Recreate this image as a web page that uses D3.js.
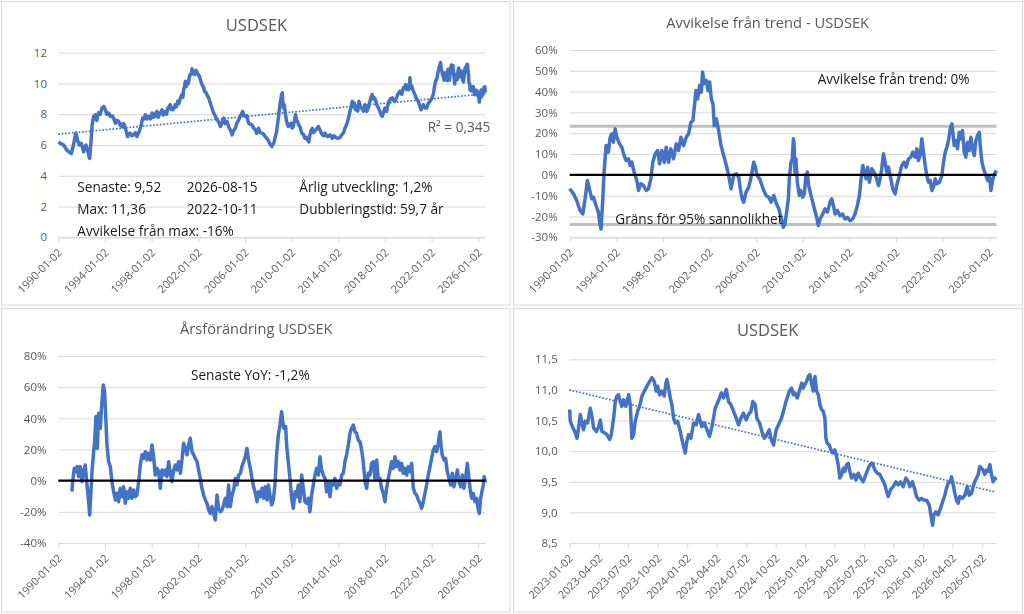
<!DOCTYPE html>
<html><head><meta charset="utf-8">
<script src="https://cdn.jsdelivr.net/npm/d3@7/dist/d3.min.js"></script>
<style>
html,body{margin:0;padding:0;background:#fff;}
svg{display:block;font-family:"Open Sans",sans-serif;}
.xlab{opacity:0.995;}
</style></head><body>
<svg id="c" width="1024" height="614"></svg>
<script>
// ---------- DATA ----------
// USDSEK long history 1990 - 2022 : [decimal year, rate]
const usdsekHist = [[1990.00,6.17],[1990.2,6.1],[1990.46,6.0],[1990.7,5.7],[1990.89,5.56],[1991.11,5.45],[1991.3,6.0],[1991.46,6.66],[1991.51,6.77],[1991.65,6.3],[1991.8,6.0],[1991.97,6.11],[1992.17,5.56],[1992.37,6.0],[1992.5,5.7],[1992.6,5.34],[1992.69,5.13],[1992.8,6.2],[1992.9,7.3],[1993.03,7.86],[1993.17,7.97],[1993.3,7.6],[1993.45,8.1],[1993.6,8.0],[1993.74,8.4],[1993.89,8.51],[1994.03,8.29],[1994.15,8.0],[1994.31,8.08],[1994.46,7.86],[1994.6,7.9],[1994.74,7.75],[1994.89,7.42],[1995.05,7.6],[1995.17,7.53],[1995.3,7.3],[1995.46,7.2],[1995.56,7.4],[1995.66,7.31],[1995.83,6.87],[1995.94,6.55],[1996.05,6.75],[1996.17,6.77],[1996.3,6.6],[1996.46,6.66],[1996.6,6.8],[1996.74,6.55],[1996.94,6.87],[1997.11,7.31],[1997.23,7.75],[1997.35,7.7],[1997.46,7.97],[1997.6,7.7],[1997.74,7.86],[1997.9,7.7],[1998.03,8.08],[1998.15,7.8],[1998.26,7.86],[1998.36,8.1],[1998.46,8.18],[1998.56,7.8],[1998.66,7.97],[1998.78,8.1],[1998.89,8.29],[1999.0,7.95],[1999.17,8.18],[1999.28,8.0],[1999.4,8.4],[1999.6,8.62],[1999.7,8.3],[1999.8,8.29],[1999.92,8.4],[2000.03,8.62],[2000.13,8.5],[2000.23,8.84],[2000.35,8.7],[2000.46,9.06],[2000.6,9.28],[2000.68,9.1],[2000.74,9.6],[2000.82,9.8],[2000.89,10.15],[2000.96,9.8],[2001.03,9.93],[2001.15,10.0],[2001.22,10.4],[2001.31,10.59],[2001.4,10.6],[2001.46,10.95],[2001.55,10.7],[2001.69,10.59],[2001.8,10.85],[2001.89,10.75],[2002.0,10.55],[2002.09,10.48],[2002.2,10.2],[2002.31,9.93],[2002.42,9.8],[2002.54,9.5],[2002.7,9.35],[2002.89,9.06],[2003.0,8.8],[2003.17,8.4],[2003.3,8.1],[2003.4,7.97],[2003.6,7.64],[2003.75,7.5],[2003.89,7.2],[2004.0,7.4],[2004.17,7.75],[2004.3,7.4],[2004.46,7.53],[2004.55,7.3],[2004.66,7.09],[2004.8,6.9],[2004.89,6.66],[2005.0,6.9],[2005.17,7.09],[2005.3,7.4],[2005.46,7.64],[2005.6,7.9],[2005.7,8.0],[2005.8,8.18],[2005.9,7.95],[2006.03,7.86],[2006.15,7.9],[2006.31,7.42],[2006.45,7.35],[2006.6,7.31],[2006.75,7.1],[2006.89,6.98],[2007.0,6.75],[2007.17,7.09],[2007.3,6.8],[2007.46,6.77],[2007.6,6.7],[2007.74,6.55],[2007.9,6.4],[2008.0,6.3],[2008.15,6.05],[2008.3,5.9],[2008.5,6.2],[2008.71,6.87],[2008.86,7.75],[2009.0,8.62],[2009.14,9.28],[2009.2,9.39],[2009.26,8.7],[2009.3,8.4],[2009.37,8.62],[2009.47,8.0],[2009.57,7.53],[2009.71,7.2],[2009.82,7.35],[2009.94,7.42],[2010.05,7.1],[2010.14,7.2],[2010.34,7.97],[2010.42,7.6],[2010.51,7.53],[2010.6,7.3],[2010.71,7.2],[2010.86,6.77],[2011.0,6.7],[2011.14,6.44],[2011.25,6.5],[2011.37,6.33],[2011.47,6.2],[2011.57,6.66],[2011.65,6.9],[2011.77,7.09],[2011.86,6.8],[2011.94,6.87],[2012.1,7.0],[2012.29,7.2],[2012.43,6.98],[2012.53,6.8],[2012.63,6.66],[2012.75,6.6],[2012.86,6.77],[2013.0,6.6],[2013.09,6.55],[2013.29,6.66],[2013.49,6.44],[2013.6,6.6],[2013.71,6.55],[2013.85,6.45],[2014.0,6.44],[2014.15,6.5],[2014.29,6.66],[2014.45,6.8],[2014.57,7.09],[2014.7,7.3],[2014.8,7.53],[2014.94,7.97],[2015.03,8.3],[2015.09,8.4],[2015.2,8.84],[2015.3,8.5],[2015.37,8.73],[2015.47,8.3],[2015.57,8.51],[2015.67,8.2],[2015.77,8.84],[2015.9,8.5],[2016.0,8.4],[2016.15,8.2],[2016.29,8.62],[2016.43,8.18],[2016.57,8.4],[2016.71,8.84],[2016.8,9.1],[2016.91,9.28],[2017.0,9.0],[2017.09,9.06],[2017.2,8.9],[2017.29,8.62],[2017.45,8.4],[2017.57,8.18],[2017.67,7.95],[2017.77,7.86],[2017.9,8.2],[2018.0,8.4],[2018.14,8.18],[2018.25,8.6],[2018.34,8.84],[2018.5,9.0],[2018.63,9.06],[2018.75,8.9],[2018.86,8.84],[2019.0,9.1],[2019.09,9.28],[2019.2,9.4],[2019.29,9.5],[2019.45,9.3],[2019.57,9.72],[2019.67,9.7],[2019.77,9.93],[2019.86,9.6],[2019.94,9.83],[2020.05,9.6],[2020.14,10.37],[2020.2,9.9],[2020.29,9.83],[2020.43,9.5],[2020.57,9.28],[2020.7,9.0],[2020.86,8.84],[2021.0,8.5],[2021.09,8.29],[2021.2,8.5],[2021.29,8.62],[2021.43,8.4],[2021.57,8.4],[2021.7,8.7],[2021.86,8.84],[2022.0,9.0],[2022.14,9.28],[2022.25,9.8],[2022.34,10.15],[2022.45,10.3],[2022.51,10.59],[2022.6,10.9],[2022.65,11.1],[2022.77,11.36],[2022.82,10.95],[2022.88,10.81],[2022.95,10.5]];

// USDSEK 2023-01 .. 2026-08 : [decimal year, rate]
const usdsekRecent = [[2023.003,10.68],[2023.008,10.49],[2023.031,10.38],[2023.051,10.30],[2023.065,10.21],[2023.079,10.38],[2023.093,10.60],[2023.107,10.46],[2023.121,10.35],[2023.136,10.49],[2023.155,10.46],[2023.178,10.70],[2023.192,10.57],[2023.206,10.38],[2023.229,10.32],[2023.249,10.40],[2023.263,10.51],[2023.277,10.32],[2023.297,10.30],[2023.319,10.27],[2023.342,10.19],[2023.356,10.27],[2023.376,10.54],[2023.39,10.81],[2023.404,10.90],[2023.418,10.92],[2023.432,10.81],[2023.446,10.73],[2023.46,10.84],[2023.48,10.73],[2023.503,10.92],[2023.517,10.76],[2023.531,10.21],[2023.545,10.27],[2023.559,10.49],[2023.579,10.65],[2023.596,10.73],[2023.616,10.90],[2023.636,10.98],[2023.658,11.06],[2023.681,11.14],[2023.701,11.20],[2023.72,11.14],[2023.737,10.98],[2023.749,11.06],[2023.766,10.92],[2023.785,10.98],[2023.805,10.90],[2023.819,11.11],[2023.828,11.17],[2023.842,11.03],[2023.856,10.87],[2023.87,10.76],[2023.884,10.54],[2023.898,10.46],[2023.918,10.49],[2023.941,10.32],[2023.955,10.19],[2023.969,10.08],[2023.983,9.97],[2023.997,10.16],[2024.011,10.27],[2024.031,10.21],[2024.054,10.46],[2024.076,10.43],[2024.096,10.60],[2024.11,10.49],[2024.124,10.40],[2024.144,10.46],[2024.167,10.35],[2024.189,10.24],[2024.209,10.40],[2024.223,10.54],[2024.237,10.70],[2024.257,10.79],[2024.274,10.87],[2024.288,10.95],[2024.308,10.87],[2024.331,11.01],[2024.35,10.81],[2024.37,10.76],[2024.393,10.65],[2024.415,10.54],[2024.435,10.43],[2024.455,10.54],[2024.477,10.62],[2024.5,10.51],[2024.52,10.60],[2024.54,10.65],[2024.556,10.81],[2024.576,10.76],[2024.59,10.54],[2024.613,10.46],[2024.633,10.32],[2024.653,10.21],[2024.675,10.27],[2024.695,10.35],[2024.712,10.19],[2024.732,10.10],[2024.754,10.35],[2024.774,10.43],[2024.8,10.54],[2024.82,10.68],[2024.837,10.81],[2024.848,10.87],[2024.865,10.98],[2024.885,11.03],[2024.899,10.92],[2024.913,10.95],[2024.933,10.87],[2024.95,10.98],[2024.97,11.11],[2024.984,11.03],[2024.998,11.09],[2025.012,11.14],[2025.026,11.22],[2025.04,11.25],[2025.054,11.11],[2025.068,10.98],[2025.083,11.22],[2025.097,10.98],[2025.111,10.92],[2025.125,10.76],[2025.139,10.68],[2025.153,10.65],[2025.167,10.54],[2025.176,10.21],[2025.187,10.13],[2025.204,10.10],[2025.215,10.04],[2025.232,9.97],[2025.252,10.02],[2025.266,9.91],[2025.28,9.78],[2025.294,9.56],[2025.309,9.62],[2025.323,9.72],[2025.337,9.67],[2025.351,9.78],[2025.365,9.80],[2025.379,9.67],[2025.393,9.56],[2025.413,9.62],[2025.43,9.53],[2025.45,9.64],[2025.47,9.56],[2025.492,9.50],[2025.515,9.62],[2025.535,9.72],[2025.549,9.78],[2025.571,9.80],[2025.591,9.69],[2025.611,9.64],[2025.633,9.62],[2025.656,9.53],[2025.676,9.45],[2025.69,9.34],[2025.704,9.26],[2025.724,9.37],[2025.746,9.42],[2025.769,9.50],[2025.789,9.45],[2025.809,9.50],[2025.831,9.42],[2025.854,9.56],[2025.874,9.50],[2025.888,9.42],[2025.91,9.50],[2025.93,9.37],[2025.944,9.26],[2025.967,9.20],[2025.987,9.23],[2026.006,9.20],[2026.029,9.20],[2026.052,9.12],[2026.071,8.90],[2026.08,8.79],[2026.091,8.96],[2026.108,9.01],[2026.128,8.96],[2026.148,9.07],[2026.165,9.17],[2026.184,9.28],[2026.198,9.39],[2026.213,9.48],[2026.227,9.50],[2026.241,9.58],[2026.255,9.45],[2026.269,9.31],[2026.283,9.20],[2026.297,9.15],[2026.311,9.26],[2026.334,9.23],[2026.354,9.28],[2026.374,9.42],[2026.391,9.28],[2026.41,9.31],[2026.424,9.42],[2026.438,9.50],[2026.453,9.56],[2026.467,9.62],[2026.481,9.75],[2026.495,9.72],[2026.509,9.69],[2026.523,9.62],[2026.537,9.69],[2026.551,9.67],[2026.566,9.78],[2026.58,9.62],[2026.594,9.50],[2026.608,9.56],[2026.618,9.52]];

// Linear trend lines (value at first and last date)
const trendLong = [6.70, 9.33];
const trendRecent = [11.00, 9.33];

// Deviation from trend, percent
const deviation = [[1990.0,-6.7],[1990.32,-9.1],[1990.6,-12.3],[1990.89,-17.1],[1991.12,-18.8],[1991.32,-11.5],[1991.52,-2.7],[1991.69,-6.7],[1991.89,-11.5],[1992.03,-10.7],[1992.26,-14.7],[1992.46,-17.9],[1992.61,-24.4],[1992.69,-26.0],[1992.84,-11.5],[1992.95,1.3],[1993.12,14.1],[1993.32,10.9],[1993.47,18.1],[1993.61,19.7],[1993.75,15.7],[1993.9,22.1],[1994.04,18.1],[1994.27,14.9],[1994.47,13.3],[1994.67,9.3],[1994.84,6.9],[1995.04,7.7],[1995.19,4.5],[1995.33,6.1],[1995.53,1.3],[1995.76,-2.7],[1995.9,-7.5],[1996.1,-4.3],[1996.33,-5.1],[1996.56,-7.5],[1996.76,-6.7],[1996.96,-1.9],[1997.13,6.1],[1997.34,10.1],[1997.54,11.7],[1997.71,5.3],[1997.91,11.7],[1998.11,6.1],[1998.28,13.3],[1998.48,6.1],[1998.68,12.5],[1998.91,7.7],[1999.14,14.9],[1999.34,11.7],[1999.54,18.1],[1999.77,14.1],[2000.0,18.1],[2000.2,19.7],[2000.4,25.3],[2000.57,26.1],[2000.69,32.5],[2000.83,40.5],[2000.97,36.5],[2001.15,42.9],[2001.29,39.7],[2001.4,49.4],[2001.55,43.8],[2001.72,45.4],[2001.86,40.5],[2002.01,44.6],[2002.15,36.5],[2002.29,34.1],[2002.41,23.7],[2002.58,26.9],[2002.78,21.3],[2002.98,14.1],[2003.21,9.3],[2003.44,4.5],[2003.64,-0.3],[2003.84,-6.7],[2004.07,-0.3],[2004.3,0.5],[2004.5,-1.1],[2004.64,-6.7],[2004.79,-11.5],[2004.93,-13.1],[2005.13,-8.3],[2005.36,-5.9],[2005.5,-2.7],[2005.64,1.3],[2005.79,6.1],[2005.93,3.7],[2006.07,-0.3],[2006.3,-1.9],[2006.5,-5.1],[2006.65,-7.5],[2006.85,-9.9],[2007.08,-10.7],[2007.28,-13.1],[2007.51,-9.9],[2007.74,-13.9],[2007.94,-16.3],[2008.18,-21.2],[2008.33,-25.2],[2008.47,-23.6],[2008.61,-17.9],[2008.76,-11.5],[2008.84,-1.9],[2008.99,6.1],[2009.1,7.7],[2009.19,17.3],[2009.24,15.7],[2009.33,1.3],[2009.41,7.7],[2009.53,-3.5],[2009.7,-9.9],[2009.82,-7.5],[2009.99,-10.7],[2010.13,-9.1],[2010.27,-0.3],[2010.39,1.3],[2010.5,-5.1],[2010.67,-9.1],[2010.85,-13.1],[2010.99,-16.3],[2011.19,-20.4],[2011.33,-24.4],[2011.48,-21.2],[2011.71,-18.8],[2011.91,-16.3],[2012.11,-17.9],[2012.34,-13.1],[2012.48,-11.5],[2012.62,-14.7],[2012.77,-18.8],[2012.97,-17.1],[2013.19,-19.6],[2013.42,-18.8],[2013.62,-21.2],[2013.82,-20.4],[2014.05,-22.0],[2014.28,-21.2],[2014.48,-18.8],[2014.68,-14.7],[2014.86,-9.9],[2015.0,-1.9],[2015.14,4.5],[2015.29,1.3],[2015.43,-1.9],[2015.57,3.7],[2015.71,-3.5],[2015.92,2.9],[2016.12,1.3],[2016.34,-1.9],[2016.49,-5.1],[2016.63,-1.9],[2016.77,2.9],[2016.92,10.1],[2017.06,6.1],[2017.2,1.3],[2017.35,3.7],[2017.55,-1.9],[2017.72,-6.7],[2017.92,-9.1],[2018.06,-5.1],[2018.21,-1.9],[2018.35,1.3],[2018.49,4.5],[2018.69,6.1],[2018.86,3.7],[2019.07,7.7],[2019.27,8.5],[2019.44,10.9],[2019.64,8.5],[2019.78,12.5],[2019.92,6.9],[2020.07,9.3],[2020.21,17.3],[2020.35,10.9],[2020.5,4.5],[2020.64,-0.3],[2020.78,-3.5],[2020.93,-2.7],[2021.07,-7.5],[2021.21,-5.9],[2021.36,-1.9],[2021.5,-4.3],[2021.73,-3.5],[2021.93,-0.3],[2022.07,6.1],[2022.22,10.9],[2022.36,13.3],[2022.5,16.5],[2022.65,22.1],[2022.79,24.5],[2022.87,20.5],[2022.99,14.1],[2023.16,16.5],[2023.27,12.5],[2023.42,20.5],[2023.56,17.3],[2023.7,21.3],[2023.85,10.9],[2023.99,8.5],[2024.13,15.7],[2024.28,11.7],[2024.42,18.1],[2024.56,12.5],[2024.71,9.3],[2024.85,16.5],[2024.99,18.9],[2025.14,20.5],[2025.22,14.1],[2025.37,6.1],[2025.51,2.9],[2025.71,-0.3],[2025.85,-2.7],[2026.02,-1.1],[2026.14,-7.5],[2026.28,-2.7],[2026.45,0.5],[2026.618,2.1]];

// 95 % probability bounds (percent)
const limits95 = [23.4, -23.9];

// Year-over-year change, percent
const yoy = [[1991.17,-7.1],[1991.23,-0.6],[1991.37,7.9],[1991.51,5.8],[1991.63,9.0],[1991.74,2.6],[1991.89,9.0],[1992.03,-0.6],[1992.17,5.8],[1992.31,10.1],[1992.46,-2.8],[1992.6,-13.5],[1992.69,-22.0],[1992.77,-11.3],[1992.89,5.8],[1993.03,18.6],[1993.11,25.0],[1993.23,41.1],[1993.34,20.7],[1993.46,43.2],[1993.6,33.6],[1993.74,50.7],[1993.86,61.4],[1993.97,57.1],[1994.06,42.1],[1994.17,22.9],[1994.31,12.2],[1994.46,9.0],[1994.6,-0.6],[1994.74,-7.1],[1994.89,-12.4],[1995.03,-8.1],[1995.17,-13.5],[1995.31,-4.9],[1995.46,-10.3],[1995.6,-3.9],[1995.74,-14.5],[1995.89,-7.1],[1996.03,-11.3],[1996.17,-4.9],[1996.31,-11.3],[1996.46,-6.0],[1996.6,-10.3],[1996.74,-9.2],[1996.89,-0.6],[1997.03,10.1],[1997.17,16.6],[1997.31,14.3],[1997.46,18.6],[1997.6,13.3],[1997.74,17.5],[1997.89,13.3],[1998.03,22.9],[1998.17,15.4],[1998.31,3.6],[1998.46,7.9],[1998.6,5.8],[1998.74,-4.9],[1998.89,6.8],[1999.03,3.6],[1999.17,6.8],[1999.31,2.6],[1999.46,12.2],[1999.6,4.7],[1999.74,-0.6],[1999.89,6.8],[2000.03,10.1],[2000.17,6.8],[2000.31,12.2],[2000.46,4.7],[2000.6,13.3],[2000.74,24.0],[2000.89,20.7],[2001.03,16.6],[2001.17,22.9],[2001.31,27.2],[2001.46,18.6],[2001.6,16.6],[2001.74,14.3],[2001.89,12.2],[2002.03,6.8],[2002.17,1.5],[2002.31,-4.9],[2002.46,-9.2],[2002.6,-12.4],[2002.74,-14.5],[2002.89,-18.8],[2003.03,-21.0],[2003.17,-16.7],[2003.31,-21.0],[2003.46,-25.2],[2003.6,-9.2],[2003.74,-17.8],[2003.89,-19.9],[2004.03,-18.8],[2004.17,-15.6],[2004.31,-11.3],[2004.46,-16.7],[2004.6,-2.8],[2004.74,-16.7],[2004.89,-9.2],[2005.03,-6.0],[2005.17,1.5],[2005.31,-2.8],[2005.46,3.6],[2005.6,4.7],[2005.74,9.0],[2005.89,12.2],[2006.03,15.4],[2006.17,20.7],[2006.31,13.3],[2006.46,7.9],[2006.6,1.5],[2006.74,-3.9],[2006.89,-8.1],[2007.03,-13.5],[2007.17,-7.1],[2007.31,-10.3],[2007.46,-4.9],[2007.6,-11.3],[2007.74,-3.9],[2007.89,-12.4],[2008.0,-2.8],[2008.14,-9.2],[2008.29,-15.6],[2008.43,-12.4],[2008.57,-2.8],[2008.71,16.5],[2008.86,29.3],[2009.0,35.7],[2009.14,44.3],[2009.23,37.9],[2009.34,33.6],[2009.49,34.7],[2009.57,22.9],[2009.71,12.2],[2009.86,1.5],[2010.0,-11.3],[2010.14,-17.8],[2010.29,-7.1],[2010.43,-10.3],[2010.57,-2.8],[2010.71,-13.5],[2010.86,3.6],[2011.0,-4.9],[2011.14,-13.5],[2011.29,-14.5],[2011.43,-11.3],[2011.57,-19.9],[2011.71,-9.2],[2011.86,-2.8],[2012.0,3.6],[2012.14,7.9],[2012.29,3.6],[2012.43,15.4],[2012.57,6.8],[2012.71,3.6],[2012.86,1.5],[2013.0,-7.1],[2013.14,-0.6],[2013.29,-10.3],[2013.43,-0.6],[2013.57,-2.8],[2013.71,1.5],[2013.86,-4.9],[2014.0,-0.6],[2014.14,-2.8],[2014.29,3.6],[2014.43,4.7],[2014.57,12.2],[2014.71,16.6],[2014.86,22.9],[2015.0,30.4],[2015.14,33.6],[2015.29,35.7],[2015.43,31.4],[2015.57,30.4],[2015.71,26.1],[2015.86,25.0],[2016.0,19.7],[2016.14,12.2],[2016.29,-0.6],[2016.43,-4.9],[2016.57,4.7],[2016.71,3.6],[2016.86,11.1],[2017.0,12.2],[2017.14,1.5],[2017.29,13.3],[2017.43,0.4],[2017.57,1.5],[2017.71,-4.9],[2017.86,-8.1],[2018.0,-13.5],[2018.14,-4.9],[2018.29,1.5],[2018.43,6.8],[2018.57,12.2],[2018.71,7.9],[2018.86,15.4],[2019.0,9.0],[2019.14,12.2],[2019.29,6.8],[2019.43,11.1],[2019.57,4.7],[2019.71,7.9],[2019.86,3.6],[2020.0,9.0],[2020.14,5.8],[2020.29,11.1],[2020.43,-4.9],[2020.57,-8.1],[2020.71,-9.2],[2020.86,-12.4],[2021.0,-14.5],[2021.14,-17.8],[2021.29,-13.5],[2021.43,-8.1],[2021.57,-2.8],[2021.71,3.6],[2021.86,9.0],[2022.0,14.3],[2022.14,19.7],[2022.29,21.8],[2022.43,18.6],[2022.57,24.0],[2022.71,31.4],[2022.8,22.9],[2022.91,16.5],[2023.06,13.3],[2023.2,14.3],[2023.34,5.8],[2023.49,1.5],[2023.63,-2.8],[2023.77,4.7],[2023.91,-3.9],[2024.06,1.5],[2024.2,6.8],[2024.34,-0.6],[2024.49,-3.9],[2024.63,3.6],[2024.77,-4.9],[2024.91,1.5],[2025.06,11.1],[2025.17,3.6],[2025.29,-4.9],[2025.43,-11.3],[2025.57,-8.1],[2025.71,-13.5],[2025.86,-11.3],[2026.0,-18.8],[2026.09,-21.0],[2026.2,-11.3],[2026.31,-7.1],[2026.43,-2.8],[2026.51,2.6],[2026.618,-1.2]];

// Axis ticks and labels
const longTicks = [1990,1994,1998,2002,2006,2010,2014,2018,2022,2026];
const longTickLabels = ["1990-01-02","1994-01-02","1998-01-02","2002-01-02","2006-01-02","2010-01-02","2014-01-02","2018-01-02","2022-01-02","2026-01-02"];
const recentTicks = [2023,2023.25,2023.5,2023.75,2024,2024.25,2024.5,2024.75,2025,2025.25,2025.5,2025.75,2026,2026.25,2026.5];
const recentTickLabels = ["2023-01-02","2023-04-02","2023-07-02","2023-10-02","2024-01-02","2024-04-02","2024-07-02","2024-10-02","2025-01-02","2025-04-02","2025-07-02","2025-10-02","2026-01-02","2026-04-02","2026-07-02"];
const rateTicks = [0,2,4,6,8,10,12];
const rateTickLabels = ["0","2","4","6","8","10","12"];
const devTicks = [-30,-20,-10,0,10,20,30,40,50,60];
const devTickLabels = ["-30%","-20%","-10%","0%","10%","20%","30%","40%","50%","60%"];
const yoyTicks = [-40,-20,0,20,40,60,80];
const yoyTickLabels = ["-40%","-20%","0%","20%","40%","60%","80%"];
const recentRateTicks = [8.5,9.0,9.5,10.0,10.5,11.0,11.5];
const recentRateTickLabels = ["8,5","9,0","9,5","10,0","10,5","11,0","11,5"];

const longDomain = [1990.0, 2026.618];
const recentDomain = [2023.0, 2026.618];

// Texts
const titles = ["USDSEK","Avvikelse från trend - USDSEK","Årsförändring USDSEK","USDSEK"];
const statsCol1 = ["Senaste: 9,52","Max: 11,36","Avvikelse från max: -16%"];
const statsCol2 = ["2026-08-15","2022-10-11"];
const statsCol3 = ["Årlig utveckling: 1,2%","Dubbleringstid: 59,7 år"];
const r2Label = "R² = 0,345";
const devLabel = "Avvikelse från trend: 0%";
const limitLabel = "Gräns för 95% sannolikhet";
const yoyLabel = "Senaste YoY: -1,2%";

// ---------- DRAWING ----------
const svg = d3.select("#c");
const BLUE = "#4472C4", GRID = "#d9d9d9", TXT = "#595959";
const LW = 3.5;

function panel(p){
  const g = svg.append("g");
  g.append("rect").attr("x",p.box[0]).attr("y",p.box[1]).attr("width",p.box[2]).attr("height",p.box[3])
    .attr("fill","#fff").attr("stroke",GRID).attr("stroke-width",1);
  const x = d3.scaleLinear().domain(p.xDomain).range(p.xRange);
  const y = d3.scaleLinear().domain(p.yDomain).range(p.yRange);
  const w = p.xRange[1]-p.xRange[0];
  const gy = g.append("g").attr("transform",`translate(${p.xRange[0]},0)`)
    .call(d3.axisLeft(y).tickValues(p.yTicks).tickFormat((d,i)=>p.yLabels[i]).tickSize(-w).tickPadding(p.xRange[0]-p.yLabelX));
  gy.select(".domain").remove();
  gy.selectAll(".tick line").attr("stroke",GRID);
  gy.selectAll(".tick text").attr("fill",TXT).attr("font-size",11.5).attr("font-family","Open Sans");
  const ay = p.yRange[0];
  const gx = g.append("g").attr("class","xlab").attr("transform",`translate(0,${ay})`)
    .call(d3.axisBottom(x).tickValues(p.xTicks).tickFormat((d,i)=>p.xLabels[i]).tickSize(5).tickSizeOuter(0));
  gx.select(".domain").attr("stroke",GRID);
  gx.selectAll(".tick line").attr("stroke",GRID);
  gx.selectAll(".tick text").attr("fill",TXT).attr("font-size",11).attr("font-family","Open Sans")
    .attr("x",0).attr("y",0).attr("dy",0).attr("text-anchor","end")
    .attr("transform","translate(4,16) rotate(-45)");
  g.append("text").attr("x",p.titleX).attr("y",p.titleY).attr("text-anchor","middle")
    .attr("font-size",p.titleSize).attr("fill",TXT).text(p.title);
  return {g,x,y};
}

function drawLine(P, data, stroke, width, dash){
  const line = d3.line().x(d=>P.x(d[0])).y(d=>P.y(d[1]));
  const path = P.g.append("path").datum(data).attr("d",line).attr("fill","none")
    .attr("stroke",stroke).attr("stroke-width",width).attr("stroke-linejoin","round");
  if(dash) path.attr("stroke-dasharray",dash);
  return path;
}
function label(P, txt, x, y, opts){
  opts = opts||{};
  P.g.append("text").attr("x",x).attr("y",y).attr("font-size",opts.size||13.6)
    .attr("fill",opts.fill||"#1a1a1a").attr("text-anchor",opts.anchor||"start").text(txt);
}

// Panel 1: long USDSEK
const P1 = panel({box:[1.5,1.5,508.5,303.5], xDomain:longDomain, xRange:[58.3,485.5], yDomain:[0,12], yRange:[237.3,52.7],
  yTicks:rateTicks, yLabels:rateTickLabels, yLabelX:47, xTicks:longTicks, xLabels:longTickLabels,
  title:titles[0], titleX:256.5, titleY:30.5, titleSize:16.5});
drawLine(P1, usdsekHist.concat(usdsekRecent), BLUE, LW);
drawLine(P1, [[longDomain[0],trendLong[0]],[longDomain[1],trendLong[1]]], BLUE, 1.7, "1.7,1.7");
label(P1, r2Label, 427.7, 131.7, {fill:TXT});
const rowsY = [192.3, 213.5, 235.5];
statsCol1.forEach((t,i)=>label(P1,t,77.3,rowsY[i]));
statsCol2.forEach((t,i)=>label(P1,t,186.7,rowsY[i]));
statsCol3.forEach((t,i)=>label(P1,t,299.3,rowsY[i]));

// Panel 2: deviation from trend
const P2 = panel({box:[513.5,1.5,509,303.5], xDomain:longDomain, xRange:[569.7,996.5], yDomain:[-30,60], yRange:[237.3,50],
  yTicks:devTicks, yLabels:devTickLabels, yLabelX:557.7, xTicks:longTicks, xLabels:longTickLabels,
  title:titles[1], titleX:767.7, titleY:28.3, titleSize:14.7});
limits95.forEach(v=>drawLine(P2, [[longDomain[0],v],[longDomain[1],v]], "#bfbfbf", 3));
drawLine(P2, deviation, BLUE, LW);
drawLine(P2, [[longDomain[0],0],[longDomain[1],0]], "#000", 2.2);
label(P2, devLabel, 817.7, 84);
label(P2, limitLabel, 615.3, 224);

// Panel 3: YoY
const P3 = panel({box:[1.5,308.5,508.5,303.5], xDomain:longDomain, xRange:[58.3,485.5], yDomain:[-40,80], yRange:[543,356],
  yTicks:yoyTicks, yLabels:yoyTickLabels, yLabelX:46.5, xTicks:longTicks, xLabels:longTickLabels,
  title:titles[2], titleX:256.3, titleY:333.7, titleSize:14.6});
drawLine(P3, yoy, BLUE, LW);
drawLine(P3, [[longDomain[0],0],[longDomain[1],0]], "#000", 2.2);
label(P3, yoyLabel, 191, 379.7);

// Panel 4: recent USDSEK
const P4 = panel({box:[513.5,308.5,509,303.5], xDomain:recentDomain, xRange:[569.3,996], yDomain:[8.5,11.5], yRange:[543,359.3],
  yTicks:recentRateTicks, yLabels:recentRateTickLabels, yLabelX:557.7, xTicks:recentTicks, xLabels:recentTickLabels,
  title:titles[3], titleX:767.7, titleY:336.3, titleSize:16.5});
drawLine(P4, usdsekRecent, BLUE, LW);
drawLine(P4, [[recentDomain[0],trendRecent[0]],[recentDomain[1],trendRecent[1]]], BLUE, 1.7, "1.7,1.7");
</script>
</body></html>
